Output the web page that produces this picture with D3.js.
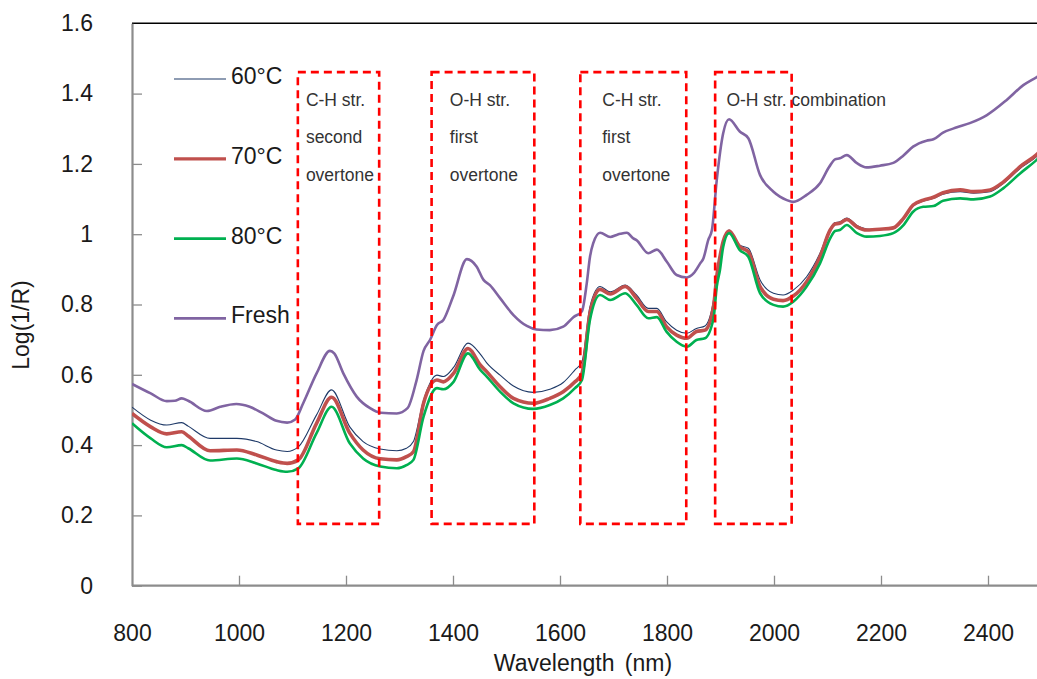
<!DOCTYPE html>
<html>
<head>
<meta charset="utf-8">
<script src="https://cdn.jsdelivr.net/npm/d3@7"></script>
<style>
  html, body { margin: 0; padding: 0; background: #fff; }
  svg { display: block; font-family: "Liberation Sans", Arial, sans-serif; }
</style>
</head>
<body>
<svg id="chart" width="1037" height="679"></svg>
<script>
// ---------------- DATA ----------------
const wavelengthFresh = [800,835,865,880,893,905,940,965,995,1020,1045,1070,1090,1105,1120,1145,1170,1178,1195,1220,1245,1265,1295,1315,1332,1345,1357,1370,1382,1400,1426,1444,1457,1469,1488,1513,1538,1556,1581,1606,1625,1641,1650,1656,1662,1675,1694,1706,1713,1725,1737,1743,1765,1781,1800,1818,1837,1850,1862,1868,1877,1884,1893,1905,1916,1936,1952,1974,1999,2011,2024,2036,2061,2086,2103,2114,2123,2136,2155,2173,2198,2223,2242,2260,2285,2298,2316,2342,2366,2398,2435,2466,2492,2500];
const valuesFresh = [0.574,0.547,0.525,0.526,0.533,0.526,0.497,0.509,0.517,0.509,0.490,0.469,0.464,0.473,0.519,0.604,0.668,0.661,0.604,0.538,0.505,0.492,0.490,0.505,0.585,0.668,0.699,0.742,0.756,0.822,0.929,0.908,0.870,0.855,0.818,0.770,0.739,0.729,0.727,0.737,0.764,0.781,0.860,0.935,0.974,1.004,0.992,0.998,1.001,1.004,0.988,0.983,0.946,0.956,0.921,0.884,0.877,0.889,0.917,0.931,0.983,1.012,1.154,1.287,1.327,1.292,1.273,1.168,1.121,1.107,1.097,1.092,1.112,1.145,1.191,1.213,1.216,1.225,1.202,1.190,1.195,1.203,1.224,1.249,1.266,1.270,1.289,1.304,1.316,1.339,1.382,1.424,1.448,1.456];

const wavelengthHeated = [800,835,865,893,905,946,996,1033,1070,1090,1111,1145,1173,1207,1232,1264,1295,1313,1326,1345,1370,1382,1401,1428,1451,1463,1488,1513,1550,1581,1606,1628,1641,1656,1675,1694,1722,1743,1765,1781,1799,1818,1837,1855,1871,1887,1893,1899,1905,1916,1936,1952,1974,1999,2017,2036,2061,2086,2105,2114,2123,2136,2155,2173,2198,2223,2242,2260,2279,2298,2316,2348,2373,2404,2429,2460,2492,2500];
const values60 = [0.508,0.471,0.457,0.464,0.454,0.419,0.419,0.410,0.386,0.382,0.395,0.486,0.557,0.452,0.410,0.389,0.384,0.391,0.410,0.528,0.599,0.595,0.621,0.690,0.659,0.634,0.599,0.568,0.550,0.559,0.578,0.614,0.637,0.794,0.851,0.836,0.855,0.827,0.789,0.789,0.751,0.727,0.718,0.732,0.739,0.813,0.889,0.938,0.983,1.012,0.969,0.960,0.870,0.832,0.827,0.841,0.879,0.946,1.016,1.033,1.035,1.046,1.025,1.015,1.013,1.016,1.042,1.080,1.094,1.102,1.114,1.121,1.117,1.121,1.145,1.187,1.222,1.234];
const values70 = [0.490,0.452,0.432,0.438,0.426,0.384,0.386,0.372,0.353,0.348,0.358,0.462,0.536,0.434,0.386,0.361,0.358,0.367,0.381,0.519,0.585,0.580,0.604,0.675,0.628,0.609,0.566,0.533,0.519,0.533,0.552,0.580,0.604,0.775,0.843,0.830,0.851,0.818,0.780,0.780,0.737,0.713,0.704,0.723,0.727,0.794,0.879,0.936,0.979,1.009,0.964,0.950,0.851,0.815,0.811,0.824,0.865,0.936,1.012,1.029,1.031,1.042,1.021,1.012,1.014,1.018,1.045,1.083,1.097,1.105,1.118,1.126,1.121,1.126,1.149,1.192,1.228,1.240];
const values80 = [0.462,0.419,0.394,0.400,0.391,0.356,0.362,0.348,0.329,0.324,0.334,0.434,0.509,0.405,0.362,0.339,0.334,0.343,0.358,0.481,0.562,0.559,0.580,0.661,0.614,0.595,0.552,0.519,0.503,0.514,0.533,0.562,0.585,0.756,0.827,0.813,0.832,0.799,0.761,0.764,0.723,0.694,0.680,0.699,0.704,0.761,0.851,0.898,0.964,1.003,0.955,0.936,0.832,0.799,0.794,0.808,0.851,0.917,0.988,1.009,1.012,1.026,1.003,0.993,0.995,1.003,1.026,1.064,1.078,1.080,1.095,1.102,1.099,1.107,1.131,1.173,1.213,1.225];

const seriesNames = ["60°C", "70°C", "80°C", "Fresh"];
const xTicks = [800, 1000, 1200, 1400, 1600, 1800, 2000, 2200, 2400];
const yTicks = [0, 0.2, 0.4, 0.6, 0.8, 1, 1.2, 1.4, 1.6];
const yTickLabels = ["0", "0.2", "0.4", "0.6", "0.8", "1", "1.2", "1.4", "1.6"];

// annotation boxes: wavelength range, value range, label lines
const boxStart = [1110, 1360, 1638, 1890];
const boxEnd   = [1262, 1552, 1836, 2033];
const boxLow = 0.176, boxHigh = 1.461;
const boxLabels = [
  ["C-H str.", "second", "overtone"],
  ["O-H str.", "first", "overtone"],
  ["C-H str.", "first", "overtone"],
  ["O-H str. combination"]
];
const boxLabelWavelength = [1125, 1394, 1679, 1911];

// ---------------- STYLE ----------------
const colors = { "60°C": "#1f3a68", "70°C": "#c0504d", "80°C": "#00b050", "Fresh": "#8064a2" };
const widths = { "60°C": 1.1, "70°C": 3.6, "80°C": 2.6, "Fresh": 2.6 };
const textColor = "#1a1a1a";

// ---------------- CHART ----------------
const svg = d3.select("#chart");
const W = 1037, H = 679;
const x = d3.scaleLinear().domain([800, 2400]).range([132, 988]);
const y = d3.scaleLinear().domain([0, 1.6]).range([585.7, 23.3]);

// top frame line
svg.append("line")
  .attr("x1", x(800)).attr("x2", W)
  .attr("y1", y(1.6)).attr("y2", y(1.6))
  .attr("stroke", "#000").attr("stroke-width", 1.6);

// y axis
const yAxis = svg.append("g")
  .attr("transform", `translate(${x(800)},0)`)
  .call(d3.axisLeft(y).tickValues(yTicks)
    .tickFormat((d, i) => yTickLabels[i])
    .tickSizeInner(-10).tickSizeOuter(0).tickPadding(39));
yAxis.select(".domain").attr("stroke", "#8c8c8c").attr("stroke-width", 2.2);
yAxis.selectAll(".tick line").attr("stroke", "#8c8c8c").attr("stroke-width", 1.3);
yAxis.selectAll(".tick text").attr("font-size", 23).attr("fill", textColor)
  .attr("font-family", "Liberation Sans, Arial, sans-serif");
yAxis.selectAll(".tick").filter(d => d === 1.6).select("line").remove();

// x axis
const xAxis = svg.append("g")
  .attr("transform", `translate(0,${y(0)})`)
  .call(d3.axisBottom(x).tickValues(xTicks)
    .tickFormat(d3.format("d"))
    .tickSizeInner(-10).tickSizeOuter(0).tickPadding(39));
xAxis.select(".domain").attr("d", `M${x(800)},0H${W}`)
  .attr("stroke", "#8c8c8c").attr("stroke-width", 2.2);
xAxis.selectAll(".tick line").attr("stroke", "#8c8c8c").attr("stroke-width", 1.3);
xAxis.selectAll(".tick").filter(d => d === 800).select("line").remove();
xAxis.selectAll(".tick text").attr("font-size", 23).attr("fill", textColor)
  .attr("font-family", "Liberation Sans, Arial, sans-serif");

// axis titles
svg.append("text")
  .attr("x", 583).attr("y", 671)
  .attr("text-anchor", "middle")
  .attr("font-size", 23).attr("fill", textColor)
  .style("word-spacing", "4px")
  .text("Wavelength (nm)");
svg.append("text")
  .attr("transform", "translate(29,325) rotate(-90)")
  .attr("text-anchor", "middle")
  .attr("font-size", 23).attr("fill", textColor)
  .text("Log(1/R)");

// series
const series = [
  { name: "60°C", wl: wavelengthHeated, v: values60 },
  { name: "70°C", wl: wavelengthHeated, v: values70 },
  { name: "80°C", wl: wavelengthHeated, v: values80 },
  { name: "Fresh", wl: wavelengthFresh, v: valuesFresh }
];
const line = d3.line()
  .x(d => x(d[0])).y(d => y(d[1]))
  .curve(d3.curveMonotoneX);

const clip = svg.append("clipPath").attr("id", "plotclip")
  .append("rect").attr("x", x(800)).attr("y", 0).attr("width", W - x(800)).attr("height", H);

svg.append("g").attr("clip-path", "url(#plotclip)")
  .selectAll("path")
  .data(series)
  .join("path")
  .attr("fill", "none")
  .attr("stroke", d => colors[d.name])
  .attr("stroke-width", d => widths[d.name])
  .attr("stroke-linejoin", "round")
  .attr("d", d => line(d.wl.map((w, i) => [w, d.v[i]])));

// annotation boxes
const boxes = boxStart.map((s, i) => ({ s, e: boxEnd[i], lines: boxLabels[i], lx: boxLabelWavelength[i] }));
const bg = svg.append("g");
bg.selectAll("rect")
  .data(boxes)
  .join("rect")
  .attr("x", d => x(d.s))
  .attr("y", y(boxHigh))
  .attr("width", d => x(d.e) - x(d.s))
  .attr("height", y(boxLow) - y(boxHigh))
  .attr("fill", "none")
  .attr("stroke", "#ff0000")
  .attr("stroke-width", 2.6)
  .attr("stroke-dasharray", "8,5");

const labelRow0 = 105.5, labelRowStep = 37.5;
boxes.forEach(b => {
  b.lines.forEach((t, j) => {
    svg.append("text")
      .attr("x", x(b.lx))
      .attr("y", labelRow0 + j * labelRowStep)
      .attr("font-size", 17.5)
      .attr("fill", "#333")
      .text(t);
  });
});

// legend
const legendX1 = 174, legendX2 = 226, legendY0 = 79, legendStep = 79.8;
const lg = svg.append("g");
seriesNames.forEach((n, i) => {
  const yy = legendY0 + i * legendStep;
  lg.append("line")
    .attr("x1", legendX1).attr("x2", legendX2)
    .attr("y1", yy).attr("y2", yy)
    .attr("stroke", colors[n])
    .attr("stroke-width", n === "60°C" ? 1.1 : (n === "70°C" ? 3.2 : 2.6));
  lg.append("text")
    .attr("x", legendX2 + 5)
    .attr("y", yy + 5)
    .attr("font-size", 23)
    .attr("fill", textColor)
    .text(n);
});
</script>
</body>
</html>
